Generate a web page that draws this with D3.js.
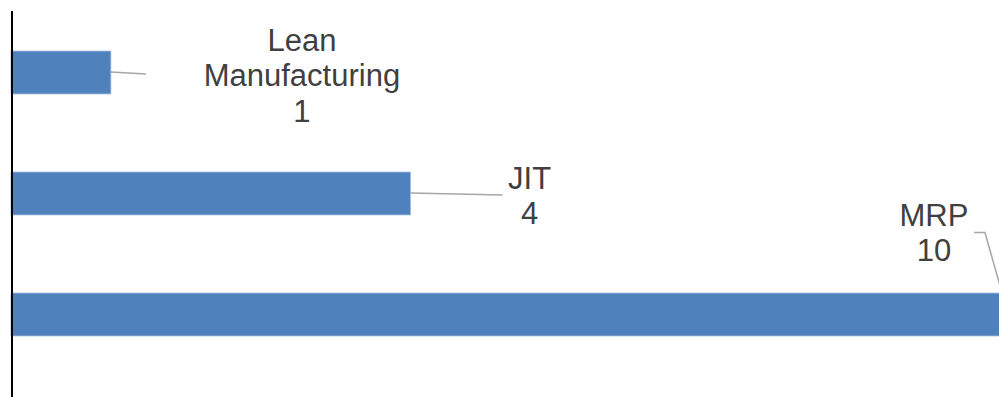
<!DOCTYPE html>
<html>
<head>
<meta charset="utf-8">
<script src="https://cdn.jsdelivr.net/npm/d3@7"></script>
<style>
  html, body { margin: 0; padding: 0; background: #fff; }
  svg { display: block; }
</style>
</head>
<body>
<svg id="chart" width="999" height="397"></svg>
<script>
// Methods and their counts
const categories = ["Lean Manufacturing", "JIT", "MRP"];
const values = [1, 4, 10];
// Label text lines (name split over lines, then value)
const labelLines = [["Lean", "Manufacturing"], ["JIT"], ["MRP"]];

// Label placement relative to the bar end / bar centre (layout only)
const labelOffsets = [
  { dx: 191, dy: -22 },
  { dx: 119, dy: -5 },
  { dx: -76, dy: -89 }
];

const W = 999, H = 397;
const svg = d3.select("#chart");

const x = d3.scaleLinear().domain([0, 10]).range([11, 1010]);
const y = d3.scaleBand().domain(categories).range([12, 375])
  .paddingInner(0.645).paddingOuter(0.3225);

const barColor = "#4F81BD";
const textColor = "#404040";
const leaderColor = "#A6A6A6";
const fontSize = 31;
const lineH = 35.5;

// Bars
svg.append("g").selectAll("rect")
  .data(categories)
  .join("rect")
  .attr("x", x(0))
  .attr("y", d => y(d))
  .attr("width", (d, i) => x(values[i]) - x(0))
  .attr("height", y.bandwidth())
  .attr("fill", barColor)
  .attr("stroke", "#A7BEDD")
  .attr("stroke-width", 0.8);

// Leader lines from bar ends to labels
const leaders = categories.map((c, i) => {
  const ex = x(values[i]);
  const cy = y(c) + y.bandwidth() / 2;
  const o = labelOffsets[i];
  if (i === 0) return [[ex, cy - 0.5], [ex + 35, cy + 1.5]];
  if (i === 1) return [[ex, cy - 0.5], [ex + 92, cy + 1.5]];
  // MRP: hook from beside the label down to the bar top
  const lx = ex + o.dx + 40;
  const ly = cy + o.dy + 7;
  return [[lx, ly], [lx + 11, ly], [ex - 8, y(c)]];
});

svg.append("g").selectAll("path")
  .data(leaders)
  .join("path")
  .attr("d", d => d3.line()(d))
  .attr("fill", "none")
  .attr("stroke", leaderColor)
  .attr("stroke-width", 1.5);

// Data labels
const labels = svg.append("g")
  .attr("font-family", "'Liberation Sans', Arial, sans-serif")
  .attr("font-size", fontSize)
  .attr("fill", textColor)
  .attr("text-anchor", "middle");

categories.forEach((c, i) => {
  const cx = x(values[i]) + labelOffsets[i].dx;
  const cy = y(c) + y.bandwidth() / 2 + labelOffsets[i].dy;
  const lines = labelLines[i].concat([String(values[i])]);
  lines.forEach((t, j) => {
    labels.append("text")
      .attr("x", cx)
      .attr("y", cy + j * lineH)
      .text(t);
  });
});

// Vertical category axis line
svg.append("line")
  .attr("x1", 12).attr("x2", 12)
  .attr("y1", 11).attr("y2", H)
  .attr("stroke", "#000")
  .attr("stroke-width", 2);
</script>
</body>
</html>
